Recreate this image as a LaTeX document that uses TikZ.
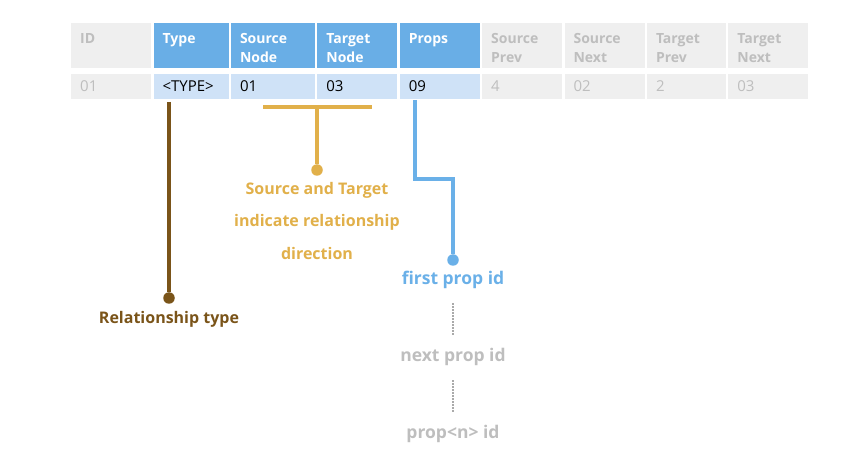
\documentclass[tikz,border=0pt]{standalone}
\usepackage{fontspec}
\setmainfont{Open Sans}
\usetikzlibrary{positioning}
\definecolor{hblue}{RGB}{105,174,230}
\definecolor{dblue}{RGB}{207,226,247}
\definecolor{cellgray}{RGB}{239,239,239}
\definecolor{offgray}{RGB}{190,190,190}
\definecolor{dotgray}{RGB}{170,170,170}
\definecolor{typebrown}{RGB}{122,84,25}
\definecolor{dirgold}{RGB}{225,176,74}
\definecolor{propblue}{RGB}{106,176,232}

\begin{document}
\begin{tikzpicture}[x=1pt,y=-1pt]
\tikzset{cell/.style={inner xsep=9pt, inner ysep=0pt, align=left, text width=#1},
  hd/.style={cell=#1, fill=hblue, text=white, font=\bfseries\fontsize{14}{19}\selectfont, text height=20pt, text depth=25pt},
  hdoff/.style={hd=#1, fill=cellgray, text=offgray},
  dt/.style={cell=#1, fill=dblue, text=black, font=\fontsize{15}{18}\selectfont, text height=18pt, text depth=7pt},
  dtoff/.style={dt=#1, fill=cellgray, text=offgray},
  dot/.style={circle, inner sep=0pt, minimum size=11.5pt},
  lbl/.style={font=\bfseries\fontsize{16}{18}\selectfont, align=center},
  proplbl/.style={lbl, font=\bfseries\fontsize{17.5}{20}\selectfont},
  dots/.style={draw=dotgray, line width=2pt, dash pattern=on 1.5pt off 1.5pt, shorten <=11pt, shorten >=9pt}};
   \useasboundingbox (0,0) rectangle (860,462);

   % header row
   \node[hdoff=62pt, anchor=north west] at (71,23) (hId) {ID};
   \node[hd=57pt, right=2pt of hId] (hType) {Type};
   \node[hd=66pt, right=2pt of hType] (hSrc) {Source\\Node};
   \node[hd=62pt, right=2pt of hSrc] (hTgt) {Target\\Node};
   \node[hd=62pt, right=2pt of hTgt] (hProps) {Props};
   \node[hdoff=62pt, right=2pt of hProps] (hSrcPrev) {Source\\Prev};
   \node[hdoff=62pt, right=2pt of hSrcPrev] (hSrcNext) {Source\\Next};
   \node[hdoff=61pt, right=2pt of hSrcNext] (hTgtPrev) {Target\\Prev};
   \node[hdoff=62pt, right=2pt of hTgtPrev] (hTgtNext) {Target\\Next};

   % record row
   \node[dtoff=62pt, below=5pt of hId] (dId) {01};
   \node[dt=57pt, below=5pt of hType] (dType) {<TYPE>};
   \node[dt=66pt, below=5pt of hSrc] (dSrc) {01};
   \node[dt=62pt, below=5pt of hTgt] (dTgt) {03};
   \node[dt=62pt, below=5pt of hProps] (dProps) {09};
   \node[dtoff=62pt, below=5pt of hSrcPrev] (dSrcPrev) {4};
   \node[dtoff=62pt, below=5pt of hSrcNext] (dSrcNext) {02};
   \node[dtoff=61pt, below=5pt of hTgtPrev] (dTgtPrev) {2};
   \node[dtoff=62pt, below=5pt of hTgtNext] (dTgtNext) {03};

   % relationship type
   \coordinate (typeTop) at (169,102);
   \node[dot, fill=typebrown] at (169,298) (typeDot) {};
   \node[lbl, text=typebrown] at (169,319) (typeLbl) {Relationship type};
   \draw[typebrown, line width=3.2pt] (typeTop) -- (typeDot);

   % direction
   \coordinate (barL) at (263,107);
   \coordinate (barR) at (372,107);
   \node[dot, fill=dirgold] at (317,170) (dirDot) {};
   \draw[dirgold, line width=4.2pt] (barL) -- (barR);
   \draw[dirgold, line width=3.4pt] (barL -| dirDot) -- (dirDot);
   \node[lbl, text=dirgold, font=\bfseries\fontsize{16}{32.5}\selectfont] at (317,221) (dirLbl) {Source and Target\\indicate relationship\\direction};

   % property chain
   \coordinate (propTop) at (415,100);
   \node[dot, fill=propblue] at (453,260) (propDot) {};
   \draw[propblue, line width=3.4pt] (propTop) -- ++(0,79) -| (propDot);
   \node[proplbl, text=propblue] at (453,280) (firstLbl) {first prop id};
   \node[proplbl, text=offgray] at (453,357) (nextLbl) {next prop id};
   \node[proplbl, text=offgray] at (453,434) (nthLbl) {prop<n> id};
   \draw[dots] (firstLbl) -- (nextLbl);
   \draw[dots] (nextLbl) -- (nthLbl);

\end{tikzpicture}
\end{document}
